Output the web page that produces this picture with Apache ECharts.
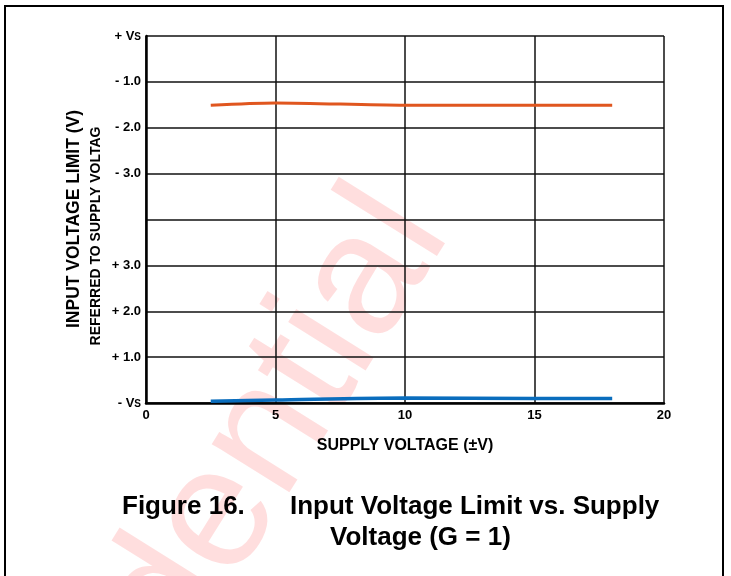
<!DOCTYPE html>
<html>
<head>
<meta charset="utf-8">
<script src="https://cdn.jsdelivr.net/npm/echarts@6/dist/echarts.min.js"></script>
<style>
html,body{margin:0;padding:0;background:#fff;}
#chart{width:731px;height:576px;}
</style>
</head>
<body>
<div id="chart"></div>
<script>
// Supply voltage (±V)
const supplyV = [2.5, 5, 10, 15, 18];
// Upper input limit, volts relative to +Vs
const upperLimit = [-1.51, -1.46, -1.51, -1.51, -1.51];
// Lower input limit, volts relative to -Vs
const lowerLimit = [0.04, 0.065, 0.11, 0.1, 0.1];
// Y tick labels from bottom (-Vs) to top (+Vs)
const yTickLabels = ['- Vs', '+ 1.0', '+ 2.0', '+ 3.0', '', '- 3.0', '- 2.0', '- 1.0', '+ Vs'];
const xTicks = [0, 5, 10, 15, 20];
const yTop = yTickLabels.length - 1; // axis position of +Vs

const FONT = 'Liberation Sans, Arial, sans-serif';

const chart = echarts.init(document.getElementById('chart'), null, {renderer: 'canvas'});

const option = {
  backgroundColor: '#fff',
  animation: false,
  grid: {left: 146, right: 67, top: 36, bottom: 173, containLabel: false},
  xAxis: {
    type: 'value',
    min: xTicks[0], max: xTicks[xTicks.length - 1], interval: 5,
    axisLine: {show: true, lineStyle: {color: '#000', width: 2.5}},
    axisTick: {show: false},
    splitLine: {show: true, lineStyle: {color: '#111', width: 1.5}},
    axisLabel: {color: '#000', fontFamily: FONT, fontWeight: 'bold', fontSize: 13, margin: 6},
    name: 'SUPPLY VOLTAGE (±V)',
    nameLocation: 'middle',
    nameGap: 35,
    nameTextStyle: {color: '#000', fontFamily: FONT, fontWeight: 'bold', fontSize: 16}
  },
  yAxis: {
    type: 'value',
    min: 0, max: yTop, interval: 1,
    axisLine: {show: true, lineStyle: {color: '#000', width: 2.5}},
    axisTick: {show: false},
    splitLine: {show: true, lineStyle: {color: '#111', width: 1.5}},
    axisLabel: {
      color: '#000', fontFamily: FONT, fontWeight: 'bold', fontSize: 13, margin: 5,
      formatter: function (v) {
        const s = yTickLabels[Math.round(v)] || '';
        return s.replace('Vs', 'V{s|S}');
      },
      rich: {
        s: {fontFamily: FONT, fontWeight: 'bold', fontSize: 10, color: '#000', padding: [3, 0, 0, 0]}
      }
    }
  },
  graphic: [
    {
      type: 'text', z: -100, silent: true,
      x: 484, y: 254, rotation: 58 * Math.PI / 180,
      style: {text: 'Confidential', fill: 'rgba(255,0,0,0.13)', font: '173px Liberation Sans, Arial, sans-serif', align: 'right', verticalAlign: 'bottom'}
    },
    {
      type: 'rect', z: 100, silent: true,
      shape: {x: 5, y: 6, width: 718, height: 620},
      style: {fill: 'none', stroke: '#000', lineWidth: 2}
    },
    {
      type: 'text', z: 100,
      x: 74, y: 219, rotation: Math.PI / 2,
      style: {text: 'INPUT VOLTAGE LIMIT (V)', fill: '#000', font: 'bold 17.5px Liberation Sans, Arial, sans-serif', align: 'center', verticalAlign: 'middle'}
    },
    {
      type: 'text', z: 100,
      x: 96, y: 236, rotation: Math.PI / 2,
      style: {text: 'REFERRED TO SUPPLY VOLTAG', fill: '#000', font: 'bold 14px Liberation Sans, Arial, sans-serif', align: 'center', verticalAlign: 'middle'}
    },
    {
      type: 'text', z: 100,
      x: 122, y: 507,
      style: {text: 'Figure 16.', fill: '#000', font: 'bold 26px Liberation Sans, Arial, sans-serif', align: 'left', verticalAlign: 'middle'}
    },
    {
      type: 'text', z: 100,
      x: 290, y: 507,
      style: {text: 'Input Voltage Limit vs. Supply', fill: '#000', font: 'bold 26px Liberation Sans, Arial, sans-serif', align: 'left', verticalAlign: 'middle'}
    },
    {
      type: 'text', z: 100,
      x: 330, y: 538,
      style: {text: 'Voltage (G = 1)', fill: '#000', font: 'bold 26px Liberation Sans, Arial, sans-serif', align: 'left', verticalAlign: 'middle'}
    }
  ],
  series: [
    {
      name: 'Upper limit',
      type: 'line',
      smooth: 0.3,
      symbol: 'none',
      lineStyle: {color: '#E0561F', width: 3},
      data: supplyV.map((x, i) => [x, yTop + upperLimit[i]]),
      z: 5
    },
    {
      name: 'Lower limit',
      type: 'line',
      smooth: 0.3,
      symbol: 'none',
      lineStyle: {color: '#0A6DBD', width: 3.5},
      data: supplyV.map((x, i) => [x, lowerLimit[i]]),
      z: 5
    }
  ]
};
chart.setOption(option);
</script>
</body>
</html>
